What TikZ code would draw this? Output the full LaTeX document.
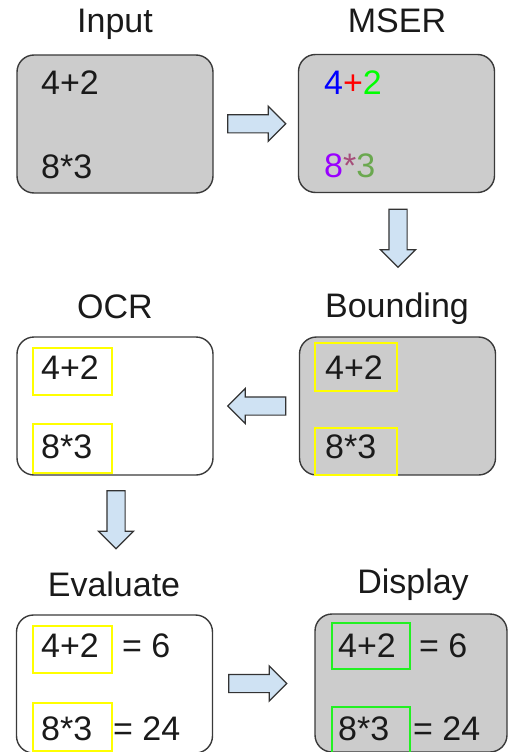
\documentclass[tikz,border=0pt]{standalone}
\usepackage{fontspec}
\setmainfont{Liberation Sans}
\usepackage{tikz}
\usepackage{xcolor}
\usetikzlibrary{positioning,calc,shapes.arrows}
\definecolor{ink}{HTML}{1A1A1A}
\definecolor{boxgrey}{HTML}{CCCCCC}
\definecolor{boxline}{HTML}{3A3A3A}
\definecolor{arrowfill}{HTML}{CFE2F3}
\definecolor{arrowline}{HTML}{333333}
\definecolor{hlyellow}{HTML}{FFFF00}
\definecolor{hlgreen}{HTML}{22F022}
\definecolor{mblue}{HTML}{0000FF}
\definecolor{mred}{HTML}{FF0000}
\definecolor{mgreen}{HTML}{00FF00}
\definecolor{mpurple}{HTML}{9900FF}
\definecolor{mplum}{HTML}{A64D79}
\definecolor{msage}{HTML}{6AA84F}
\tikzset{
  stagebox/.style={draw=boxline,line width=1.4pt,rounded corners=17pt,
    minimum width=196pt,minimum height=138pt},
  flowarrow/.style={single arrow,draw=arrowline,fill=arrowfill,line width=1.2pt,
    inner sep=8.5pt,minimum height=58pt,single arrow head extend=8.5pt},
  hlbox/.style={line width=1.2pt}
}

\begin{document}
\begin{tikzpicture}[x=1pt,y=-1pt,every node/.style={inner sep=0pt,text=ink,font=\fontsize{34}{40}\selectfont}]
      \useasboundingbox (0,0) rectangle (508,752);
      % stage boxes
      \node[stagebox,fill=boxgrey] (input) at (115,124) {};
      \node[stagebox,fill=boxgrey] (mser) at (396.5,123.5) {};
      \node[stagebox] (ocr) at (115,406) {};
      \node[stagebox,fill=boxgrey] (bound) at (397.5,406) {};
      \node[stagebox] (eval) at (114.5,684) {};
      \node[stagebox,fill=boxgrey,minimum width=192pt] (disp) at (411,683) {};
      % titles
      \node[anchor=base] (inputT) at (115,33) {Input};
      \node[anchor=base] (mserT) at (397,33) {MSER};
      \node[anchor=base] (ocrT) at (115,318) {OCR};
      \node[anchor=base] (boundT) at (397,317) {Bounding};
      \node[anchor=base] (evalT) at (114,596) {Evaluate};
      \node[anchor=base] (dispT) at (413,593) {Display};
      % arrows between stages
      \node[flowarrow] (a1) at ($(input.east)!0.5!(mser.west)+(-3.5,0)$) {};
      \node[flowarrow,shape border rotate=270] (a2) at ($(mser.south)+(1.5,40.5)$) {};
      \node[flowarrow,shape border rotate=180] (a3) at ($(ocr.east)!0.5!(bound.west)+(5,0)$) {};
      \node[flowarrow,shape border rotate=270] (a4) at ($(ocr.south)+(1,39.5)$) {};
      \node[flowarrow] (a5) at ($(eval.east)!0.5!(disp.west)+(-10.5,0)$) {};
      % input
      \node[anchor=base west] (in1) at (41,95) {4+2};
      \node[anchor=base west] (in2) at (41,178) {8*3};
      % mser regions
      \node[anchor=base west] (ms1) at (324,95) {{\color{mblue}4}{\color{mred}+}{\color{mgreen}2}};
      \node[anchor=base west] (ms2) at (324,177) {{\color{mpurple}8}{\color{mplum}*}{\color{msage}3}};
      % bounding
      \draw[hlbox,hlyellow] (315,343) rectangle (397,391);
      \draw[hlbox,hlyellow] (315,428) rectangle (397,475);
      \node[anchor=base west] (bd1) at (325,379) {4+2};
      \node[anchor=base west] (bd2) at (325,458) {8*3};
      % ocr
      \draw[hlbox,hlyellow] (33,348) rectangle (112,395);
      \draw[hlbox,hlyellow] (33,424) rectangle (112,473);
      \node[anchor=base west] (oc1) at (41,379) {4+2};
      \node[anchor=base west] (oc2) at (41,458) {8*3};
      % evaluate
      \draw[hlbox,hlyellow] (33,626) rectangle (112,673);
      \draw[hlbox,hlyellow] (33,703) rectangle (112,751);
      \node[anchor=base west] (ev1) at (41,657) {4+2};
      \node[anchor=base west] (ev2) at (41,740) {8*3};
      \node[anchor=base west] (ev3) at (122,657) {= 6};
      \node[anchor=base west] (ev4) at (113,740) {= 24};
      % display
      \draw[hlbox,hlgreen] (332,623) rectangle (410,669);
      \draw[hlbox,hlgreen] (332,707) rectangle (410,755);
      \node[anchor=base west] (ds1) at (338,657) {4+2};
      \node[anchor=base west] (ds2) at (338,740) {8*3};
      \node[anchor=base west] (ds3) at (419,657) {= 6};
      \node[anchor=base west] (ds4) at (413,740) {= 24};
    \end{tikzpicture}
\end{document}
